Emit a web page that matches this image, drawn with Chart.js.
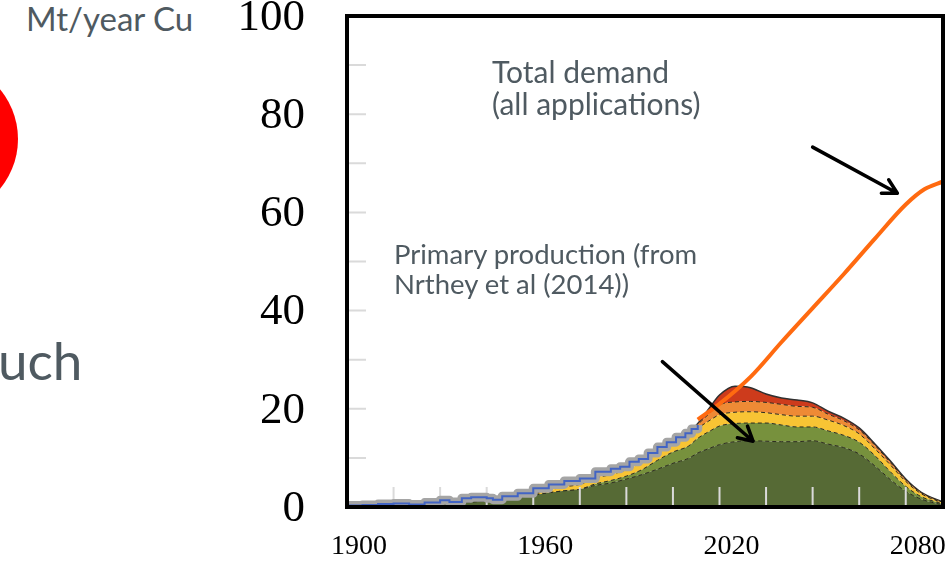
<!DOCTYPE html>
<html>
<head>
<meta charset="utf-8">
<script src="https://cdn.jsdelivr.net/npm/chart.js@4.4.1/dist/chart.umd.min.js"></script>
<style>
  html, body { margin: 0; padding: 0; background: #fff; }
  #wrap { position: relative; width: 951px; height: 562px; overflow: hidden; }
  #chart { position: absolute; left: 0; top: 0; }
  .note { position: absolute; font-family: Lato, 'Open Sans', sans-serif; color: #4f5a61; white-space: nowrap; line-height: 1; }
  .dot { position: absolute; left: -138px; top: 61px; width: 156px; height: 156px; border-radius: 50%; background: #ff0000; }
</style>
</head>
<body>
<div id="wrap">
  <div class="dot"></div>
  <div class="note" style="left:26px; top:2px; font-size:33px;">Mt/year Cu</div>
  <div class="note" style="left:-2px; top:333px; font-size:53px;">uch</div>
  <canvas id="chart" width="951" height="562"></canvas>
  <div class="note" style="left:492px; top:55px; font-size:30px; line-height:32px;">Total demand<br>(all applications)</div>
  <div class="note" style="left:394px; top:239px; font-size:27.5px; line-height:30px;">Primary production (from<br>Nrthey et al (2014))</div>
</div>
<script>
// années communes aux couches empilées (production primaire)
const years = [1900, 1910, 1920, 1930, 1940, 1950, 1955, 1960, 1965, 1970, 1975, 1980, 1985, 1990, 1995, 2000, 2005, 2010, 2013, 2017, 2020, 2025, 2030, 2035, 2040, 2045, 2050, 2055, 2060, 2065, 2070, 2075, 2080, 2085, 2092];
const darkGreen  = [0.2, 0.3, 0.4, 0.7, 1.0, 1.5, 1.9, 2.4, 2.9, 3.3, 3.6, 4.4, 4.9, 5.7, 6.6, 7.7, 8.9, 9.9, 11.0, 12.0, 12.7, 13.3, 13.5, 13.4, 13.3, 13.3, 13.5, 12.8, 12.1, 10.8, 8.4, 5.6, 3.2, 1.6, 0.4];
const lightGreen = [0, 0, 0, 0, 0, 0, 0, 0, 0, 0, 0, 0.3, 0.5, 0.6, 1.0, 1.8, 2.3, 2.5, 3.0, 3.5, 3.8, 3.7, 3.6, 3.7, 3.4, 3.0, 2.8, 2.7, 2.5, 2.4, 2.1, 1.6, 1.0, 0.5, 0.2];
const yellow     = [0, 0, 0, 0, 0, 0, 0, 0.2, 0.5, 0.8, 1.0, 1.2, 1.2, 1.3, 1.4, 1.5, 1.7, 1.9, 2.0, 2.2, 2.3, 2.3, 2.3, 2.1, 2.1, 2.2, 2.2, 2.2, 2.0, 1.7, 1.4, 1.4, 1.0, 0.6, 0.2];
const orangeBand = [0, 0, 0, 0, 0, 0, 0, 0.1, 0.3, 0.4, 0.4, 0.5, 0.5, 0.5, 0.6, 0.6, 0.7, 0.8, 0.8, 1.5, 2.0, 2.1, 2.1, 2.1, 2.1, 2.0, 1.8, 1.2, 1.0, 0.8, 0.7, 0.5, 0.3, 0.2, 0.1];
const red        = [0, 0, 0, 0, 0, 0, 0, 0, 0, 0, 0, 0, 0, 0, 0, 0, 0, 0, 0.2, 1.2, 2.0, 3.2, 2.8, 1.7, 1.3, 1.3, 0.9, 0.6, 0.5, 0.4, 0.3, 0.3, 0.2, 0.1, 0.1];

// demande totale
const demandYears  = [2013, 2020, 2030, 2040, 2050, 2060, 2070, 2080, 2086, 2092];
const demandValues = [17.8, 21.0, 26.5, 33.6, 40.5, 47.4, 54.6, 61.6, 64.7, 66.3];

// production historique
const histYears  = [1900, 1905, 1910, 1915, 1920, 1925, 1930, 1933, 1937, 1940, 1945, 1947, 1950, 1955, 1960, 1965, 1970, 1975, 1980, 1985, 1988, 1991, 1994, 1997, 2000, 2003, 2006, 2009, 2011, 2013];
const histValues = [0.3, 0.4, 0.6, 0.7, 0.5, 0.9, 1.4, 1.0, 1.8, 2.0, 1.8, 1.5, 2.2, 2.8, 3.8, 4.6, 5.3, 5.8, 7.2, 7.8, 8.2, 9.2, 9.8, 11.0, 12.2, 13.2, 14.2, 15.0, 15.9, 16.7];

// graduations
const xTicks = [1900, 1960, 2020, 2080];
const yTicks = [0, 20, 40, 60, 80, 100];
const xMinor = [1900, 1915, 1930, 1945, 1960, 1975, 1990, 2005, 2020, 2035, 2050, 2065, 2080];
const yMinor = [10, 20, 30, 40, 50, 60, 70, 80, 90];

// flèches (queue -> pointe, en unités des axes)
const arrowFrom = [[2050, 73.3], [2001.6, 29.6]];
const arrowTo   = [[2077.3, 63.9], [2030.8, 13.4]];

const pts = (xs, ys) => xs.map((x, i) => ({ x: x, y: ys[i] }));

function layer(values, color, fill, dashed) {
    return {
        data: pts(years, values),
        stack: 'prod',
        fill: fill,
        backgroundColor: color,
        borderColor: dashed ? '#2b2b1e' : '#303030',
        borderWidth: dashed ? 1 : 1.5,
        borderDash: dashed ? [4, 3] : [],
        pointRadius: 0,
        cubicInterpolationMode: 'monotone'
    };
}

const overlay = {
    id: 'overlay',
    afterDatasetDraw(chart, args) {
        if (args.index !== 0) return;
        const { ctx, chartArea: a, scales: { x, y } } = chart;
        ctx.save();
        ctx.lineWidth = 2;
        ctx.strokeStyle = '#dadada';
        ctx.beginPath();
        xMinor.forEach(v => {
            const px = x.getPixelForValue(v);
            ctx.moveTo(px, a.bottom);
            ctx.lineTo(px, a.bottom - 20);
        });
        yMinor.forEach(v => {
            const py = y.getPixelForValue(v);
            ctx.moveTo(a.left, py);
            ctx.lineTo(a.left + 19, py);
        });
        ctx.stroke();
        ctx.restore();
    },
    afterDatasetsDraw(chart) {
        const { ctx, chartArea: a, scales: { x, y } } = chart;
        ctx.save();
        // cadre
        ctx.strokeStyle = '#000';
        ctx.lineWidth = 4;
        ctx.strokeRect(a.left, a.top, a.right - a.left, a.bottom - a.top);
        // flèches
        ctx.lineWidth = 3.5;
        ctx.lineCap = 'round';
        ctx.lineJoin = 'round';
        arrowFrom.forEach((f, i) => {
            const x0 = x.getPixelForValue(f[0]), y0 = y.getPixelForValue(f[1]);
            const x1 = x.getPixelForValue(arrowTo[i][0]), y1 = y.getPixelForValue(arrowTo[i][1]);
            const ang = Math.atan2(y1 - y0, x1 - x0);
            ctx.beginPath();
            ctx.moveTo(x0, y0);
            ctx.lineTo(x1, y1);
            ctx.moveTo(x1 - 16 * Math.cos(ang - 0.5), y1 - 16 * Math.sin(ang - 0.5));
            ctx.lineTo(x1, y1);
            ctx.lineTo(x1 - 16 * Math.cos(ang + 0.5), y1 - 16 * Math.sin(ang + 0.5));
            ctx.stroke();
        });
        ctx.restore();
    }
};

// graduations invisibles : elles ne servent qu'à écarter les libellés de l'axe
const hiddenGrid = (len) => ({
    display: true,
    drawOnChartArea: false,
    drawTicks: true,
    tickLength: len,
    color: 'rgba(0,0,0,0)',
    tickColor: 'rgba(0,0,0,0)'
});

new Chart(document.getElementById('chart'), {
    type: 'line',
    data: {
        datasets: [
            layer(darkGreen, '#566a35', 'origin', true),
            layer(lightGreen, '#77913d', '-1', true),
            layer(yellow, '#f8c434', '-1', true),
            layer(orangeBand, '#ee8a35', '-1', true),
            layer(red, '#cd3b1c', '-1', false),
            {
                data: pts(demandYears, demandValues),
                stack: 'demand',
                order: -3,
                borderColor: '#ff6a10',
                borderWidth: 4,
                pointRadius: 0,
                fill: false,
                cubicInterpolationMode: 'monotone'
            },
            {
                data: pts(histYears, histValues),
                stack: 'hist',
                order: -2,
                borderColor: '#4264c4',
                borderWidth: 2,
                pointRadius: 0,
                fill: false,
                stepped: true
            },
            {
                data: pts(histYears, histValues),
                stack: 'halo',
                order: -1,
                borderColor: '#a5a5a5',
                borderWidth: 9,
                borderJoinStyle: 'round',
                pointRadius: 0,
                fill: false,
                stepped: true
            }
        ]
    },
    options: {
        responsive: false,
        animation: false,
        layout: { autoPadding: false, padding: { left: 0, top: 16, right: 8, bottom: 0 } },
        scales: {
            x: {
                type: 'linear',
                min: 1900,
                max: 2092,
                grid: hiddenGrid(21),
                border: { display: false },
                afterBuildTicks: s => { s.ticks = xTicks.map(v => ({ value: v })); },
                afterFit: s => { s.height = 55; },
                ticks: {
                    color: '#000',
                    padding: 2,
                    labelOffset: 12,
                    maxRotation: 0,
                    callback: v => String(v),
                    font: { family: "'Liberation Serif', serif", size: 28 }
                }
            },
            y: {
                stacked: true,
                min: 0,
                max: 100,
                grid: hiddenGrid(40),
                border: { display: false },
                afterBuildTicks: s => { s.ticks = yTicks.map(v => ({ value: v })); },
                afterFit: s => { s.width = 347; },
                ticks: {
                    color: '#000',
                    padding: 2,
                    labelOffset: 2,
                    font: { family: "'Liberation Serif', serif", size: 45, lineHeight: 0.5 }
                }
            }
        },
        plugins: {
            legend: { display: false },
            tooltip: { enabled: false }
        }
    },
    plugins: [overlay]
});
</script>
</body>
</html>
